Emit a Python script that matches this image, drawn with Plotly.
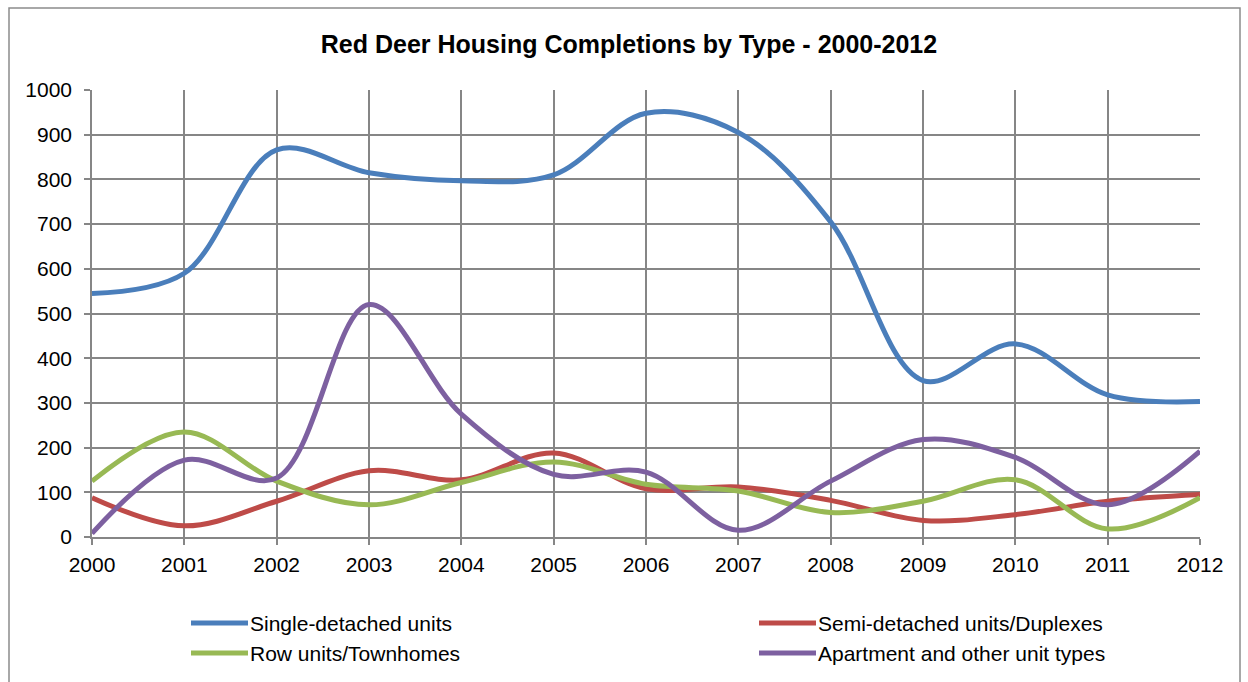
import plotly.graph_objects as go

# Housing completions in Red Deer, 2000-2012
years = list(range(2000, 2013))
single_detached = [545, 590, 866, 815, 797, 810, 948, 905, 705, 350, 432, 318, 303]
semi_detached = [88, 25, 80, 148, 128, 188, 108, 112, 82, 37, 50, 80, 95]
row_units = [125, 235, 125, 72, 122, 168, 118, 103, 55, 80, 128, 18, 88]
apartments = [8, 172, 132, 520, 275, 140, 145, 15, 125, 218, 178, 72, 192]

series_names = [
    "Single-detached units",
    "Semi-detached units/Duplexes",
    "Row units/Townhomes",
    "Apartment and other unit types",
]
series_values = [single_detached, semi_detached, row_units, apartments]
series_colors = ["#4A7EBB", "#BE4B48", "#98B954", "#7D60A0"]

title_text = "Red Deer Housing Completions by Type - 2000-2012"
y_ticks = list(range(0, 1001, 100))

W, H = 1248, 682
L, R, T, B = 92, 1200, 90, 537  # plot area in pixels


def px(x):
    return (x - L) / (R - L)


def py(y):
    return (B - y) / (B - T)


fig = go.Figure()
for name, vals, color in zip(series_names, series_values, series_colors):
    fig.add_trace(go.Scatter(
        x=years, y=vals, name=name, mode="lines",
        line=dict(color=color, width=5, shape="spline", smoothing=1.0),
        showlegend=False, cliponaxis=True,
    ))

grid = "#868686"
font = "Liberation Sans, Arial, sans-serif"

fig.update_layout(
    width=W, height=H,
    margin=dict(l=L, r=W - R, t=T, b=H - B, autoexpand=False),
    paper_bgcolor="white", plot_bgcolor="white",
    font=dict(family=font, size=21, color="black"),
    title=dict(text="<b>" + title_text + "</b>", x=629 / W, xanchor="center",
               y=1 - 44 / H, yanchor="middle", yref="container",
               font=dict(size=25, family=font, color="black")),
    xaxis=dict(range=[years[0], years[-1]], tickmode="array", tickvals=years,
               ticktext=[str(y) for y in years], showgrid=True, gridcolor=grid,
               gridwidth=1.5, showline=True, linecolor=grid, linewidth=1.5,
               ticks="outside", ticklen=6, tickcolor=grid, tickwidth=1.5,
               zeroline=False, tickfont=dict(size=21), fixedrange=True,
               ticklabelstandoff=2),
    yaxis=dict(range=[0, 1000], tickmode="array", tickvals=y_ticks,
               showgrid=True, gridcolor=grid, gridwidth=1.5, showline=True,
               linecolor=grid, linewidth=1.5, ticks="outside", ticklen=6,
               tickcolor=grid, tickwidth=1.5, zeroline=False,
               tickfont=dict(size=21), fixedrange=True, ticklabelstandoff=8),
)

# Chart border
fig.add_shape(type="rect", xref="paper", yref="paper",
              x0=px(9), x1=px(1240), y0=py(700), y1=py(8),
              line=dict(color="#8C8C8C", width=1.5), fillcolor="rgba(0,0,0,0)",
              layer="below")

# Legend: two columns, two rows
legend_cols = [191, 759]
legend_rows = [623, 653]
for i in range(len(series_names)):
    col = legend_cols[i % 2]
    row = legend_rows[i // 2]
    fig.add_shape(type="line", xref="paper", yref="paper",
                  x0=px(col), x1=px(col + 57), y0=py(row), y1=py(row),
                  line=dict(color=series_colors[i], width=5))
    fig.add_annotation(xref="paper", yref="paper", x=px(col + 57), y=py(row),
                       xanchor="left", yanchor="middle", showarrow=False,
                       text=series_names[i],
                       font=dict(size=21, family=font, color="black"))

fig.write_html("out.html")
